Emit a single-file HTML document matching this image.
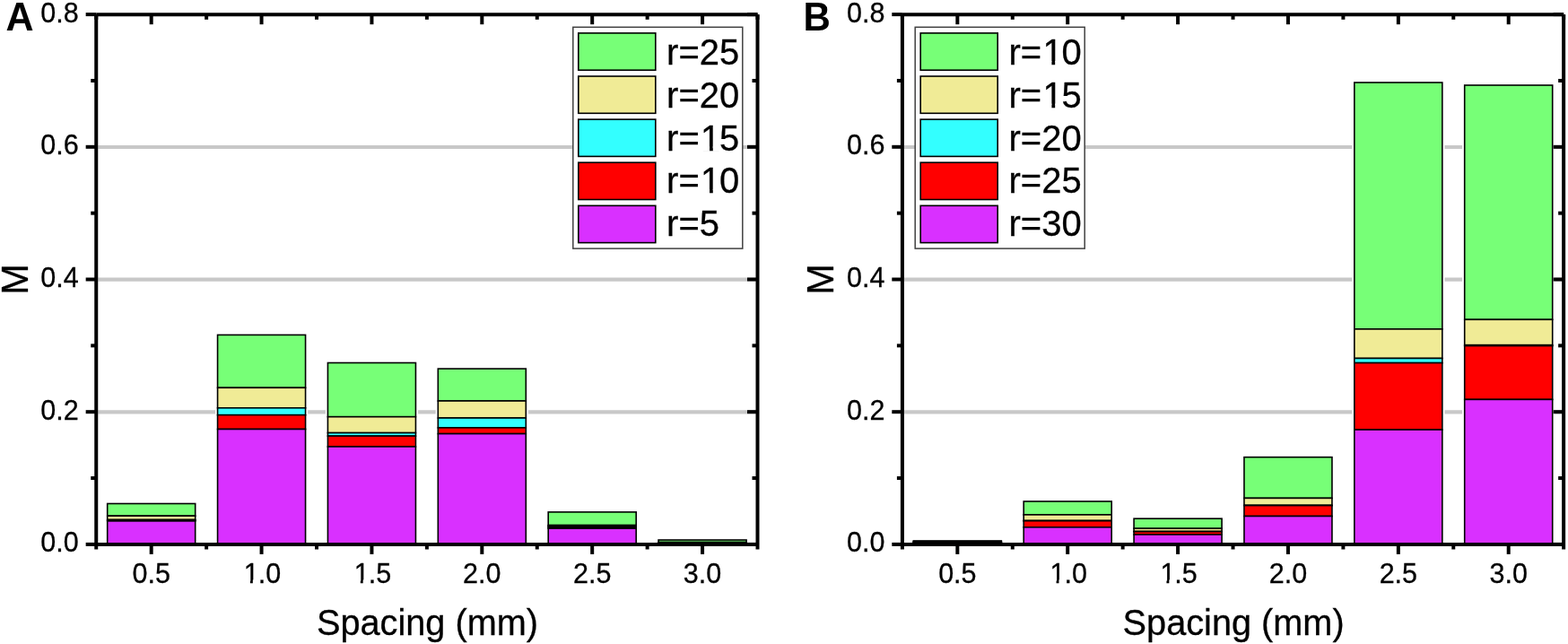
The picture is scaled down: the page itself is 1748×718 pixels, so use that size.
<!DOCTYPE html>
<html><head><meta charset="utf-8"><title>Stacked bar charts</title>
<style>
html,body{margin:0;padding:0;background:#fff;}
body{width:1748px;height:718px;overflow:hidden;}
svg{display:block;}
text{font-family:"Liberation Sans",Arial,sans-serif;fill:#000;stroke:#000;stroke-width:0.3px;}
.tl{font-size:30.5px;}
.at{font-size:39.7px;}
.lg{font-size:40px;}
.atm{font-size:41.5px;}
.pl{font-size:44px;font-weight:bold;stroke:none;}
</style></head>
<body>
<svg width="1748" height="718" viewBox="0 0 1748 718">
<rect width="1748" height="718" fill="#fff"/>
<line x1="109.25" y1="459.40" x2="842.50" y2="459.40" stroke="#c8c8c8" stroke-width="4.2"/>
<line x1="109.25" y1="311.70" x2="842.50" y2="311.70" stroke="#c8c8c8" stroke-width="4.2"/>
<line x1="109.25" y1="164.00" x2="842.50" y2="164.00" stroke="#c8c8c8" stroke-width="4.2"/>
<rect x="117.09" y="560.50" width="103.20" height="46.40" fill="#fff"/>
<rect x="119.69" y="561.50" width="98.00" height="13.70" fill="#77ff77" stroke="#000" stroke-width="1.6"/>
<rect x="119.69" y="575.20" width="98.00" height="4.30" fill="#f0eb96" stroke="#000" stroke-width="1.6"/>
<rect x="119.69" y="579.50" width="98.00" height="0.60" fill="#33ffff" stroke="#000" stroke-width="1.6"/>
<rect x="119.69" y="580.10" width="98.00" height="0.80" fill="#ff0000" stroke="#000" stroke-width="1.6"/>
<rect x="119.69" y="580.90" width="98.00" height="26.00" fill="#d930ff" stroke="#000" stroke-width="1.6"/>
<rect x="239.96" y="372.40" width="103.20" height="234.50" fill="#fff"/>
<rect x="242.56" y="373.40" width="98.00" height="58.90" fill="#77ff77" stroke="#000" stroke-width="1.6"/>
<rect x="242.56" y="432.30" width="98.00" height="22.50" fill="#f0eb96" stroke="#000" stroke-width="1.6"/>
<rect x="242.56" y="454.80" width="98.00" height="7.90" fill="#33ffff" stroke="#000" stroke-width="1.6"/>
<rect x="242.56" y="462.70" width="98.00" height="15.80" fill="#ff0000" stroke="#000" stroke-width="1.6"/>
<rect x="242.56" y="478.50" width="98.00" height="128.40" fill="#d930ff" stroke="#000" stroke-width="1.6"/>
<rect x="362.84" y="403.50" width="103.20" height="203.40" fill="#fff"/>
<rect x="365.44" y="404.50" width="98.00" height="60.20" fill="#77ff77" stroke="#000" stroke-width="1.6"/>
<rect x="365.44" y="464.70" width="98.00" height="17.90" fill="#f0eb96" stroke="#000" stroke-width="1.6"/>
<rect x="365.44" y="482.60" width="98.00" height="3.50" fill="#33ffff" stroke="#000" stroke-width="1.6"/>
<rect x="365.44" y="486.10" width="98.00" height="11.90" fill="#ff0000" stroke="#000" stroke-width="1.6"/>
<rect x="365.44" y="498.00" width="98.00" height="108.90" fill="#d930ff" stroke="#000" stroke-width="1.6"/>
<rect x="485.71" y="410.10" width="103.20" height="196.80" fill="#fff"/>
<rect x="488.31" y="411.10" width="98.00" height="35.90" fill="#77ff77" stroke="#000" stroke-width="1.6"/>
<rect x="488.31" y="447.00" width="98.00" height="19.00" fill="#f0eb96" stroke="#000" stroke-width="1.6"/>
<rect x="488.31" y="466.00" width="98.00" height="10.90" fill="#33ffff" stroke="#000" stroke-width="1.6"/>
<rect x="488.31" y="476.90" width="98.00" height="6.70" fill="#ff0000" stroke="#000" stroke-width="1.6"/>
<rect x="488.31" y="483.60" width="98.00" height="123.30" fill="#d930ff" stroke="#000" stroke-width="1.6"/>
<rect x="608.59" y="569.90" width="103.20" height="37.00" fill="#fff"/>
<rect x="611.19" y="570.90" width="98.00" height="14.70" fill="#77ff77" stroke="#000" stroke-width="1.6"/>
<rect x="611.19" y="585.60" width="98.00" height="1.10" fill="#f0eb96" stroke="#000" stroke-width="1.6"/>
<rect x="611.19" y="586.70" width="98.00" height="1.20" fill="#33ffff" stroke="#000" stroke-width="1.6"/>
<rect x="611.19" y="587.90" width="98.00" height="1.20" fill="#ff0000" stroke="#000" stroke-width="1.6"/>
<rect x="611.19" y="589.10" width="98.00" height="17.80" fill="#d930ff" stroke="#000" stroke-width="1.6"/>
<rect x="731.46" y="601.00" width="103.20" height="5.90" fill="#fff"/>
<rect x="734.06" y="602.00" width="98.00" height="2.60" fill="#77ff77" stroke="#000" stroke-width="1.6"/>
<rect x="734.06" y="604.60" width="98.00" height="0.40" fill="#f0eb96" stroke="#000" stroke-width="1.6"/>
<rect x="734.06" y="605.00" width="98.00" height="0.40" fill="#33ffff" stroke="#000" stroke-width="1.6"/>
<rect x="734.06" y="605.40" width="98.00" height="0.40" fill="#ff0000" stroke="#000" stroke-width="1.6"/>
<rect x="734.06" y="605.80" width="98.00" height="1.10" fill="#d930ff" stroke="#000" stroke-width="1.6"/>
<path d="M107.25,16.20H844.50M107.25,606.90H844.50M107.25,16.20V606.90M844.50,16.20V606.90" fill="none" stroke="#000" stroke-width="4.0"/>
<line x1="95.65" y1="606.90" x2="107.25" y2="606.90" stroke="#000" stroke-width="4.0"/>
<line x1="833.00" y1="606.90" x2="844.50" y2="606.90" stroke="#000" stroke-width="4.0"/>
<line x1="101.25" y1="533.05" x2="107.25" y2="533.05" stroke="#000" stroke-width="4.0"/>
<line x1="838.50" y1="533.05" x2="844.50" y2="533.05" stroke="#000" stroke-width="4.0"/>
<line x1="95.65" y1="459.20" x2="107.25" y2="459.20" stroke="#000" stroke-width="4.0"/>
<line x1="833.00" y1="459.20" x2="844.50" y2="459.20" stroke="#000" stroke-width="4.0"/>
<line x1="101.25" y1="385.35" x2="107.25" y2="385.35" stroke="#000" stroke-width="4.0"/>
<line x1="838.50" y1="385.35" x2="844.50" y2="385.35" stroke="#000" stroke-width="4.0"/>
<line x1="95.65" y1="311.50" x2="107.25" y2="311.50" stroke="#000" stroke-width="4.0"/>
<line x1="833.00" y1="311.50" x2="844.50" y2="311.50" stroke="#000" stroke-width="4.0"/>
<line x1="101.25" y1="237.65" x2="107.25" y2="237.65" stroke="#000" stroke-width="4.0"/>
<line x1="838.50" y1="237.65" x2="844.50" y2="237.65" stroke="#000" stroke-width="4.0"/>
<line x1="95.65" y1="163.80" x2="107.25" y2="163.80" stroke="#000" stroke-width="4.0"/>
<line x1="833.00" y1="163.80" x2="844.50" y2="163.80" stroke="#000" stroke-width="4.0"/>
<line x1="101.25" y1="89.95" x2="107.25" y2="89.95" stroke="#000" stroke-width="4.0"/>
<line x1="838.50" y1="89.95" x2="844.50" y2="89.95" stroke="#000" stroke-width="4.0"/>
<line x1="95.65" y1="16.10" x2="107.25" y2="16.10" stroke="#000" stroke-width="4.0"/>
<line x1="833.00" y1="16.10" x2="844.50" y2="16.10" stroke="#000" stroke-width="4.0"/>
<line x1="107.25" y1="606.90" x2="107.25" y2="612.50" stroke="#000" stroke-width="4.0"/>
<line x1="107.25" y1="16.20" x2="107.25" y2="21.80" stroke="#000" stroke-width="4.0"/>
<line x1="168.69" y1="606.90" x2="168.69" y2="617.90" stroke="#000" stroke-width="4.0"/>
<line x1="168.69" y1="16.20" x2="168.69" y2="27.20" stroke="#000" stroke-width="4.0"/>
<line x1="230.12" y1="606.90" x2="230.12" y2="612.50" stroke="#000" stroke-width="4.0"/>
<line x1="230.12" y1="16.20" x2="230.12" y2="21.80" stroke="#000" stroke-width="4.0"/>
<line x1="291.56" y1="606.90" x2="291.56" y2="617.90" stroke="#000" stroke-width="4.0"/>
<line x1="291.56" y1="16.20" x2="291.56" y2="27.20" stroke="#000" stroke-width="4.0"/>
<line x1="353.00" y1="606.90" x2="353.00" y2="612.50" stroke="#000" stroke-width="4.0"/>
<line x1="353.00" y1="16.20" x2="353.00" y2="21.80" stroke="#000" stroke-width="4.0"/>
<line x1="414.44" y1="606.90" x2="414.44" y2="617.90" stroke="#000" stroke-width="4.0"/>
<line x1="414.44" y1="16.20" x2="414.44" y2="27.20" stroke="#000" stroke-width="4.0"/>
<line x1="475.88" y1="606.90" x2="475.88" y2="612.50" stroke="#000" stroke-width="4.0"/>
<line x1="475.88" y1="16.20" x2="475.88" y2="21.80" stroke="#000" stroke-width="4.0"/>
<line x1="537.31" y1="606.90" x2="537.31" y2="617.90" stroke="#000" stroke-width="4.0"/>
<line x1="537.31" y1="16.20" x2="537.31" y2="27.20" stroke="#000" stroke-width="4.0"/>
<line x1="598.75" y1="606.90" x2="598.75" y2="612.50" stroke="#000" stroke-width="4.0"/>
<line x1="598.75" y1="16.20" x2="598.75" y2="21.80" stroke="#000" stroke-width="4.0"/>
<line x1="660.19" y1="606.90" x2="660.19" y2="617.90" stroke="#000" stroke-width="4.0"/>
<line x1="660.19" y1="16.20" x2="660.19" y2="27.20" stroke="#000" stroke-width="4.0"/>
<line x1="721.62" y1="606.90" x2="721.62" y2="612.50" stroke="#000" stroke-width="4.0"/>
<line x1="721.62" y1="16.20" x2="721.62" y2="21.80" stroke="#000" stroke-width="4.0"/>
<line x1="783.06" y1="606.90" x2="783.06" y2="617.90" stroke="#000" stroke-width="4.0"/>
<line x1="783.06" y1="16.20" x2="783.06" y2="27.20" stroke="#000" stroke-width="4.0"/>
<line x1="844.50" y1="606.90" x2="844.50" y2="612.50" stroke="#000" stroke-width="4.0"/>
<line x1="844.50" y1="16.20" x2="844.50" y2="21.80" stroke="#000" stroke-width="4.0"/>
<text x="87.75" y="615.40" text-anchor="end" class="tl">0.0</text>
<text x="87.75" y="467.70" text-anchor="end" class="tl">0.2</text>
<text x="87.75" y="320.00" text-anchor="end" class="tl">0.4</text>
<text x="87.75" y="172.30" text-anchor="end" class="tl">0.6</text>
<text x="87.75" y="24.60" text-anchor="end" class="tl">0.8</text>
<text x="168.69" y="649.90" text-anchor="middle" class="tl">0.5</text>
<text x="291.56" y="649.90" text-anchor="middle" class="tl"><tspan dx="1.00">1</tspan><tspan dx="-1.00">.</tspan>0</text>
<rect x="272.15" y="646.42" width="6.78" height="4.68" fill="#fff"/>
<rect x="281.83" y="646.42" width="6.72" height="4.68" fill="#fff"/>
<text x="414.44" y="649.90" text-anchor="middle" class="tl"><tspan dx="1.00">1</tspan><tspan dx="-1.00">.</tspan>5</text>
<rect x="395.03" y="646.42" width="6.78" height="4.68" fill="#fff"/>
<rect x="404.70" y="646.42" width="6.72" height="4.68" fill="#fff"/>
<text x="537.31" y="649.90" text-anchor="middle" class="tl">2.0</text>
<text x="660.19" y="649.90" text-anchor="middle" class="tl">2.5</text>
<text x="783.06" y="649.90" text-anchor="middle" class="tl">3.0</text>
<text transform="translate(476.48,707.8) scale(1,1.035)" text-anchor="middle" class="at">Spacing (mm)</text>
<text transform="translate(30.65,311.55) rotate(-90) scale(1,1.035)" x="0" y="0" text-anchor="middle" class="atm">M</text>
<text transform="translate(6.40,33.8) scale(1,1.02)" class="pl" style="font-size:43px">A</text>
<rect x="638.80" y="30.3" width="189.0" height="246.8" fill="#fff" stroke="#404040" stroke-width="1.5"/>
<rect x="644.80" y="36.90" width="86.0" height="41.3" fill="#77ff77" stroke="#000" stroke-width="1.6"/>
<g transform="translate(743.10,72.30) scale(1,1.035)"><text class="lg">r=25</text></g>
<rect x="644.80" y="85.00" width="86.0" height="41.3" fill="#f0eb96" stroke="#000" stroke-width="1.6"/>
<g transform="translate(743.10,119.95) scale(1,1.035)"><text class="lg">r=20</text></g>
<rect x="644.80" y="133.10" width="86.0" height="41.3" fill="#33ffff" stroke="#000" stroke-width="1.6"/>
<g transform="translate(743.10,167.60) scale(1,1.035)"><text class="lg">r=<tspan dx="1.30">1</tspan><tspan dx="-1.30">5</tspan></text><rect x="39.32" y="-4.19" width="8.61" height="5.39" fill="#fff"/><rect x="51.67" y="-4.19" width="8.50" height="5.39" fill="#fff"/></g>
<rect x="644.80" y="181.20" width="86.0" height="41.3" fill="#ff0000" stroke="#000" stroke-width="1.6"/>
<g transform="translate(743.10,215.25) scale(1,1.035)"><text class="lg">r=<tspan dx="1.30">1</tspan><tspan dx="-1.30">0</tspan></text><rect x="39.32" y="-4.19" width="8.61" height="5.39" fill="#fff"/><rect x="51.67" y="-4.19" width="8.50" height="5.39" fill="#fff"/></g>
<rect x="644.80" y="229.30" width="86.0" height="41.3" fill="#d930ff" stroke="#000" stroke-width="1.6"/>
<g transform="translate(743.10,262.90) scale(1,1.035)"><text class="lg">r=5</text></g>
<line x1="1007.90" y1="459.40" x2="1741.15" y2="459.40" stroke="#c8c8c8" stroke-width="4.2"/>
<line x1="1007.90" y1="311.70" x2="1741.15" y2="311.70" stroke="#c8c8c8" stroke-width="4.2"/>
<line x1="1007.90" y1="164.00" x2="1741.15" y2="164.00" stroke="#c8c8c8" stroke-width="4.2"/>
<rect x="1015.74" y="602.00" width="103.20" height="4.90" fill="#fff"/>
<rect x="1018.34" y="603.00" width="98.00" height="0.70" fill="#77ff77" stroke="#000" stroke-width="1.6"/>
<rect x="1018.34" y="603.70" width="98.00" height="0.60" fill="#f0eb96" stroke="#000" stroke-width="1.6"/>
<rect x="1018.34" y="604.30" width="98.00" height="0.60" fill="#33ffff" stroke="#000" stroke-width="1.6"/>
<rect x="1018.34" y="604.90" width="98.00" height="0.60" fill="#ff0000" stroke="#000" stroke-width="1.6"/>
<rect x="1018.34" y="605.50" width="98.00" height="1.40" fill="#d930ff" stroke="#000" stroke-width="1.6"/>
<rect x="1138.61" y="558.00" width="103.20" height="48.90" fill="#fff"/>
<rect x="1141.21" y="559.00" width="98.00" height="14.90" fill="#77ff77" stroke="#000" stroke-width="1.6"/>
<rect x="1141.21" y="573.90" width="98.00" height="6.60" fill="#f0eb96" stroke="#000" stroke-width="1.6"/>
<rect x="1141.21" y="580.50" width="98.00" height="0.20" fill="#33ffff" stroke="#000" stroke-width="1.6"/>
<rect x="1141.21" y="580.70" width="98.00" height="7.10" fill="#ff0000" stroke="#000" stroke-width="1.6"/>
<rect x="1141.21" y="587.80" width="98.00" height="19.10" fill="#d930ff" stroke="#000" stroke-width="1.6"/>
<rect x="1261.49" y="577.20" width="103.20" height="29.70" fill="#fff"/>
<rect x="1264.09" y="578.20" width="98.00" height="11.00" fill="#77ff77" stroke="#000" stroke-width="1.6"/>
<rect x="1264.09" y="589.20" width="98.00" height="3.30" fill="#f0eb96" stroke="#000" stroke-width="1.6"/>
<rect x="1264.09" y="592.50" width="98.00" height="0.20" fill="#33ffff" stroke="#000" stroke-width="1.6"/>
<rect x="1264.09" y="592.70" width="98.00" height="3.30" fill="#ff0000" stroke="#000" stroke-width="1.6"/>
<rect x="1264.09" y="596.00" width="98.00" height="10.90" fill="#d930ff" stroke="#000" stroke-width="1.6"/>
<rect x="1384.36" y="508.70" width="103.20" height="98.20" fill="#fff"/>
<rect x="1386.96" y="509.70" width="98.00" height="45.70" fill="#77ff77" stroke="#000" stroke-width="1.6"/>
<rect x="1386.96" y="555.40" width="98.00" height="8.00" fill="#f0eb96" stroke="#000" stroke-width="1.6"/>
<rect x="1386.96" y="563.40" width="98.00" height="0.20" fill="#33ffff" stroke="#000" stroke-width="1.6"/>
<rect x="1386.96" y="563.60" width="98.00" height="11.90" fill="#ff0000" stroke="#000" stroke-width="1.6"/>
<rect x="1386.96" y="575.50" width="98.00" height="31.40" fill="#d930ff" stroke="#000" stroke-width="1.6"/>
<rect x="1507.24" y="91.00" width="103.20" height="515.90" fill="#fff"/>
<rect x="1509.84" y="92.00" width="98.00" height="274.90" fill="#77ff77" stroke="#000" stroke-width="1.6"/>
<rect x="1509.84" y="366.90" width="98.00" height="32.60" fill="#f0eb96" stroke="#000" stroke-width="1.6"/>
<rect x="1509.84" y="399.50" width="98.00" height="5.10" fill="#33ffff" stroke="#000" stroke-width="1.6"/>
<rect x="1509.84" y="404.60" width="98.00" height="74.50" fill="#ff0000" stroke="#000" stroke-width="1.6"/>
<rect x="1509.84" y="479.10" width="98.00" height="127.80" fill="#d930ff" stroke="#000" stroke-width="1.6"/>
<rect x="1630.11" y="94.00" width="103.20" height="512.90" fill="#fff"/>
<rect x="1632.71" y="95.00" width="98.00" height="261.30" fill="#77ff77" stroke="#000" stroke-width="1.6"/>
<rect x="1632.71" y="356.30" width="98.00" height="28.40" fill="#f0eb96" stroke="#000" stroke-width="1.6"/>
<rect x="1632.71" y="384.70" width="98.00" height="0.90" fill="#33ffff" stroke="#000" stroke-width="1.6"/>
<rect x="1632.71" y="385.60" width="98.00" height="59.80" fill="#ff0000" stroke="#000" stroke-width="1.6"/>
<rect x="1632.71" y="445.40" width="98.00" height="161.50" fill="#d930ff" stroke="#000" stroke-width="1.6"/>
<path d="M1005.90,16.20H1743.15M1005.90,606.90H1743.15M1005.90,16.20V606.90M1743.15,16.20V606.90" fill="none" stroke="#000" stroke-width="4.0"/>
<line x1="994.30" y1="606.90" x2="1005.90" y2="606.90" stroke="#000" stroke-width="4.0"/>
<line x1="1731.65" y1="606.90" x2="1743.15" y2="606.90" stroke="#000" stroke-width="4.0"/>
<line x1="999.90" y1="533.05" x2="1005.90" y2="533.05" stroke="#000" stroke-width="4.0"/>
<line x1="1737.15" y1="533.05" x2="1743.15" y2="533.05" stroke="#000" stroke-width="4.0"/>
<line x1="994.30" y1="459.20" x2="1005.90" y2="459.20" stroke="#000" stroke-width="4.0"/>
<line x1="1731.65" y1="459.20" x2="1743.15" y2="459.20" stroke="#000" stroke-width="4.0"/>
<line x1="999.90" y1="385.35" x2="1005.90" y2="385.35" stroke="#000" stroke-width="4.0"/>
<line x1="1737.15" y1="385.35" x2="1743.15" y2="385.35" stroke="#000" stroke-width="4.0"/>
<line x1="994.30" y1="311.50" x2="1005.90" y2="311.50" stroke="#000" stroke-width="4.0"/>
<line x1="1731.65" y1="311.50" x2="1743.15" y2="311.50" stroke="#000" stroke-width="4.0"/>
<line x1="999.90" y1="237.65" x2="1005.90" y2="237.65" stroke="#000" stroke-width="4.0"/>
<line x1="1737.15" y1="237.65" x2="1743.15" y2="237.65" stroke="#000" stroke-width="4.0"/>
<line x1="994.30" y1="163.80" x2="1005.90" y2="163.80" stroke="#000" stroke-width="4.0"/>
<line x1="1731.65" y1="163.80" x2="1743.15" y2="163.80" stroke="#000" stroke-width="4.0"/>
<line x1="999.90" y1="89.95" x2="1005.90" y2="89.95" stroke="#000" stroke-width="4.0"/>
<line x1="1737.15" y1="89.95" x2="1743.15" y2="89.95" stroke="#000" stroke-width="4.0"/>
<line x1="994.30" y1="16.10" x2="1005.90" y2="16.10" stroke="#000" stroke-width="4.0"/>
<line x1="1731.65" y1="16.10" x2="1743.15" y2="16.10" stroke="#000" stroke-width="4.0"/>
<line x1="1005.90" y1="606.90" x2="1005.90" y2="612.50" stroke="#000" stroke-width="4.0"/>
<line x1="1005.90" y1="16.20" x2="1005.90" y2="21.80" stroke="#000" stroke-width="4.0"/>
<line x1="1067.34" y1="606.90" x2="1067.34" y2="617.90" stroke="#000" stroke-width="4.0"/>
<line x1="1067.34" y1="16.20" x2="1067.34" y2="27.20" stroke="#000" stroke-width="4.0"/>
<line x1="1128.78" y1="606.90" x2="1128.78" y2="612.50" stroke="#000" stroke-width="4.0"/>
<line x1="1128.78" y1="16.20" x2="1128.78" y2="21.80" stroke="#000" stroke-width="4.0"/>
<line x1="1190.21" y1="606.90" x2="1190.21" y2="617.90" stroke="#000" stroke-width="4.0"/>
<line x1="1190.21" y1="16.20" x2="1190.21" y2="27.20" stroke="#000" stroke-width="4.0"/>
<line x1="1251.65" y1="606.90" x2="1251.65" y2="612.50" stroke="#000" stroke-width="4.0"/>
<line x1="1251.65" y1="16.20" x2="1251.65" y2="21.80" stroke="#000" stroke-width="4.0"/>
<line x1="1313.09" y1="606.90" x2="1313.09" y2="617.90" stroke="#000" stroke-width="4.0"/>
<line x1="1313.09" y1="16.20" x2="1313.09" y2="27.20" stroke="#000" stroke-width="4.0"/>
<line x1="1374.53" y1="606.90" x2="1374.53" y2="612.50" stroke="#000" stroke-width="4.0"/>
<line x1="1374.53" y1="16.20" x2="1374.53" y2="21.80" stroke="#000" stroke-width="4.0"/>
<line x1="1435.96" y1="606.90" x2="1435.96" y2="617.90" stroke="#000" stroke-width="4.0"/>
<line x1="1435.96" y1="16.20" x2="1435.96" y2="27.20" stroke="#000" stroke-width="4.0"/>
<line x1="1497.40" y1="606.90" x2="1497.40" y2="612.50" stroke="#000" stroke-width="4.0"/>
<line x1="1497.40" y1="16.20" x2="1497.40" y2="21.80" stroke="#000" stroke-width="4.0"/>
<line x1="1558.84" y1="606.90" x2="1558.84" y2="617.90" stroke="#000" stroke-width="4.0"/>
<line x1="1558.84" y1="16.20" x2="1558.84" y2="27.20" stroke="#000" stroke-width="4.0"/>
<line x1="1620.28" y1="606.90" x2="1620.28" y2="612.50" stroke="#000" stroke-width="4.0"/>
<line x1="1620.28" y1="16.20" x2="1620.28" y2="21.80" stroke="#000" stroke-width="4.0"/>
<line x1="1681.71" y1="606.90" x2="1681.71" y2="617.90" stroke="#000" stroke-width="4.0"/>
<line x1="1681.71" y1="16.20" x2="1681.71" y2="27.20" stroke="#000" stroke-width="4.0"/>
<line x1="1743.15" y1="606.90" x2="1743.15" y2="612.50" stroke="#000" stroke-width="4.0"/>
<line x1="1743.15" y1="16.20" x2="1743.15" y2="21.80" stroke="#000" stroke-width="4.0"/>
<text x="986.40" y="615.40" text-anchor="end" class="tl">0.0</text>
<text x="986.40" y="467.70" text-anchor="end" class="tl">0.2</text>
<text x="986.40" y="320.00" text-anchor="end" class="tl">0.4</text>
<text x="986.40" y="172.30" text-anchor="end" class="tl">0.6</text>
<text x="986.40" y="24.60" text-anchor="end" class="tl">0.8</text>
<text x="1067.34" y="649.90" text-anchor="middle" class="tl">0.5</text>
<text x="1190.21" y="649.90" text-anchor="middle" class="tl"><tspan dx="1.00">1</tspan><tspan dx="-1.00">.</tspan>0</text>
<rect x="1170.80" y="646.42" width="6.78" height="4.68" fill="#fff"/>
<rect x="1180.48" y="646.42" width="6.72" height="4.68" fill="#fff"/>
<text x="1313.09" y="649.90" text-anchor="middle" class="tl"><tspan dx="1.00">1</tspan><tspan dx="-1.00">.</tspan>5</text>
<rect x="1293.68" y="646.42" width="6.78" height="4.68" fill="#fff"/>
<rect x="1303.35" y="646.42" width="6.72" height="4.68" fill="#fff"/>
<text x="1435.96" y="649.90" text-anchor="middle" class="tl">2.0</text>
<text x="1558.84" y="649.90" text-anchor="middle" class="tl">2.5</text>
<text x="1681.71" y="649.90" text-anchor="middle" class="tl">3.0</text>
<text transform="translate(1375.12,707.8) scale(1,1.035)" text-anchor="middle" class="at">Spacing (mm)</text>
<text transform="translate(929.30,311.55) rotate(-90) scale(1,1.035)" x="0" y="0" text-anchor="middle" class="atm">M</text>
<text transform="translate(895.40,33.8) scale(1,1.045)" class="pl" style="font-size:42px">B</text>
<rect x="1020.20" y="30.3" width="189.0" height="246.8" fill="#fff" stroke="#404040" stroke-width="1.5"/>
<rect x="1026.20" y="36.90" width="86.0" height="41.3" fill="#77ff77" stroke="#000" stroke-width="1.6"/>
<g transform="translate(1124.50,72.30) scale(1,1.035)"><text class="lg">r=<tspan dx="1.30">1</tspan><tspan dx="-1.30">0</tspan></text><rect x="39.32" y="-4.19" width="8.61" height="5.39" fill="#fff"/><rect x="51.67" y="-4.19" width="8.50" height="5.39" fill="#fff"/></g>
<rect x="1026.20" y="85.00" width="86.0" height="41.3" fill="#f0eb96" stroke="#000" stroke-width="1.6"/>
<g transform="translate(1124.50,119.95) scale(1,1.035)"><text class="lg">r=<tspan dx="1.30">1</tspan><tspan dx="-1.30">5</tspan></text><rect x="39.32" y="-4.19" width="8.61" height="5.39" fill="#fff"/><rect x="51.67" y="-4.19" width="8.50" height="5.39" fill="#fff"/></g>
<rect x="1026.20" y="133.10" width="86.0" height="41.3" fill="#33ffff" stroke="#000" stroke-width="1.6"/>
<g transform="translate(1124.50,167.60) scale(1,1.035)"><text class="lg">r=20</text></g>
<rect x="1026.20" y="181.20" width="86.0" height="41.3" fill="#ff0000" stroke="#000" stroke-width="1.6"/>
<g transform="translate(1124.50,215.25) scale(1,1.035)"><text class="lg">r=25</text></g>
<rect x="1026.20" y="229.30" width="86.0" height="41.3" fill="#d930ff" stroke="#000" stroke-width="1.6"/>
<g transform="translate(1124.50,262.90) scale(1,1.035)"><text class="lg">r=30</text></g>
</svg>
</body></html>
